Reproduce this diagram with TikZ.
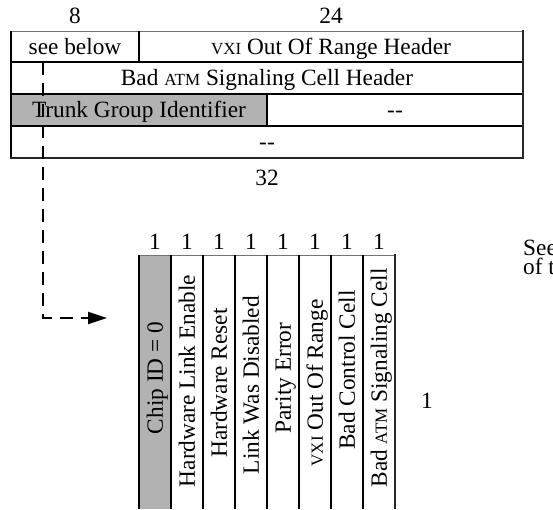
\documentclass[tikz,border=0pt]{standalone}
\usepackage{fontspec}
\setmainfont{Liberation Serif}
\usetikzlibrary{arrows.meta}
\newcommand\smc[1]{{\fontsize{17}{19}\selectfont #1}}
\begin{document}
\begin{tikzpicture}[x=1pt,y=-1pt,
  font=\fontsize{23.3}{26}\selectfont,
  txt/.style={inner sep=0pt, text height=15.5pt, text depth=0pt},
  vtxt/.style={txt, rotate=90},
  free/.style={inner sep=0pt, anchor=base},
  note/.style={inner sep=0pt, anchor=base west},
  rule/.style={line width=1.4pt, black},
  edge/.style={line width=2.2pt, black!85},
  hair/.style={line width=0.7pt, black!55},
  link/.style={line width=2pt, dash pattern=on 13pt off 8pt,
    -{Triangle[length=19pt,width=12pt]}}]
\useasboundingbox (0,0) rectangle (553,509);
% ---------- top table ----------
\fill[black!30] (11,94) rectangle (267,126);
\draw[hair] (11,31) -- (523,31);
\draw[rule] (11,31) -- (11,158);
\foreach \yy in {62,94,126} \draw[rule] (11,\yy) -- (523,\yy);
\draw[rule] (139,31) -- (139,62);
\draw[rule] (267,94) -- (267,126);
\draw[edge] (523,30) -- (523,159);
\draw[edge] (10,158) -- (524,158);
\node[free] (w8)  at (75,23) {8};
\node[free] (w24) at (331,23) {24};
\node[free] (w32) at (267,185) {32};
\node[txt, minimum width=128pt, minimum height=31pt] (sb) at (75,46.5) {see below};
\node[txt] (vxi) at (331,46.5) {\smc{VXI} Out Of Range Header};
\node[txt] (atm) at (267,78) {Bad \smc{ATM} Signaling Cell Header};
\node[txt] (tgi) at (139,110) {Trunk Group Identifier};
\node[txt] (d1) at (395,110) {-{}-};
\node[txt] (d2) at (267,142) {-{}-};
% ---------- register ----------
\fill[black!30] (139,255) rectangle (171,509);
\draw[hair] (139,255) -- (395,255);
\foreach \xx in {139,171,203,235,267,299,331,363} \draw[rule] (\xx,255) -- (\xx,509);
\draw[edge] (395,254) -- (395,509);
\foreach \xx/\nm in {155/a,187/b,219/c,251/d,283/e,315/f,347/g,379/h}
  \node[free] (one\nm) at (\xx,249) {1};
\node[vtxt] (b1) at (155,378) {Chip ID = 0};
\node[vtxt] (b2) at (187,381) {Hardware Link Enable};
\node[vtxt] (b3) at (219,383) {Hardware Reset};
\node[vtxt] (b4) at (251,385) {Link Was Disabled};
\node[vtxt] (b5) at (283,378) {Parity Error};
\node[vtxt] (b6) at (315,383) {\smc{VXI} Out Of Range};
\node[vtxt] (b7) at (347,370) {Bad Control Cell};
\node[vtxt] (b8) at (379,378) {Bad \smc{ATM} Signaling Cell};
\node[free] (wr) at (427,408) {1};
\node[note] (see) at (523,255) {See};
\node[note] (oft) at (523,274) {of t};
% ---------- dashed pointer ----------
\coordinate (turn) at (43,318);
\coordinate (tip) at (107,318);
\draw[link] (sb.south -| turn) -- (turn) -- (tip);
\end{tikzpicture}
\end{document}
